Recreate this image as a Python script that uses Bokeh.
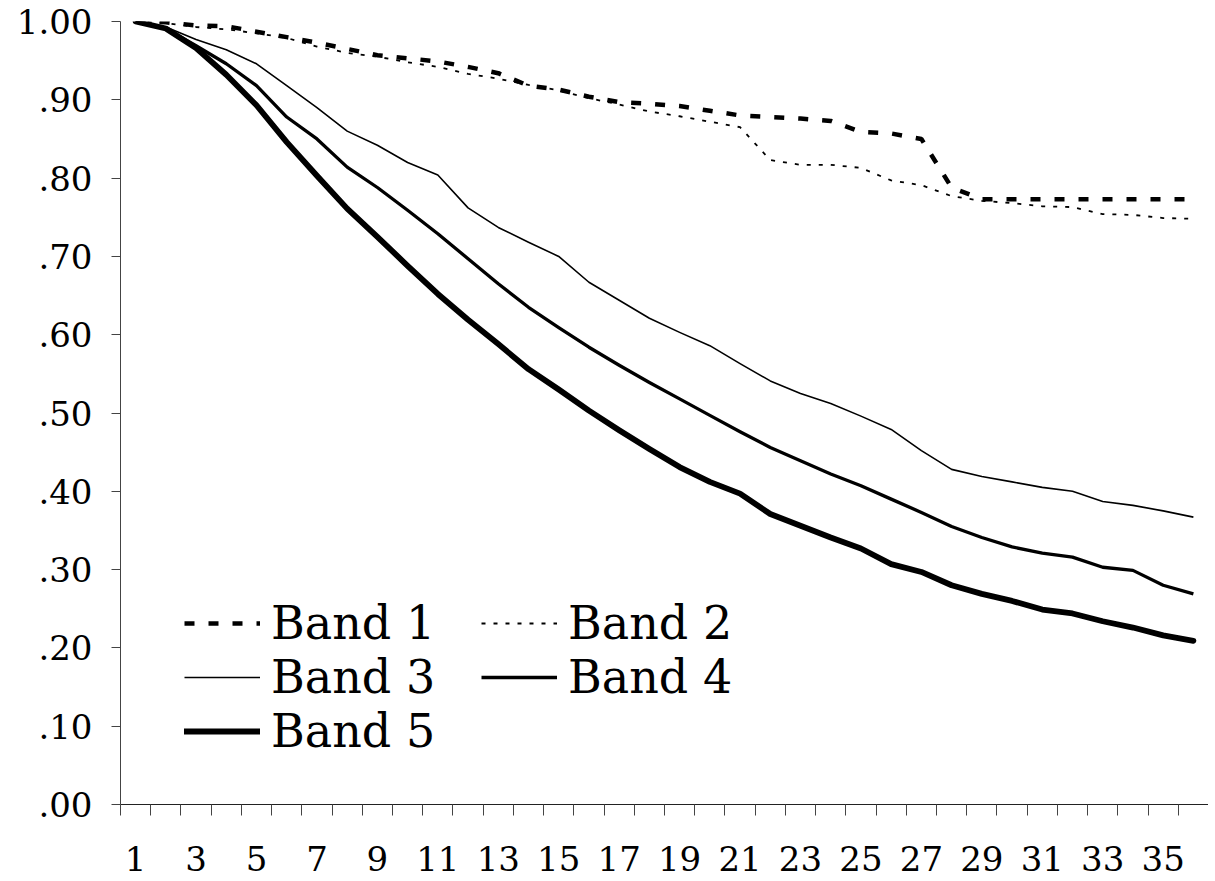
from bokeh.plotting import figure
from bokeh.models import FixedTicker, Legend, LegendItem, Range1d
from bokeh.embed import file_html
from bokeh.resources import INLINE

periods = list(range(1, 37))
x_tick_values = list(range(1, 37, 2))
x_tick_labels = [str(v) for v in x_tick_values]
y_tick_values = [0.0, 0.1, 0.2, 0.3, 0.4, 0.5, 0.6, 0.7, 0.8, 0.9, 1.0]
y_tick_labels = [".00", ".10", ".20", ".30", ".40", ".50", ".60", ".70", ".80", ".90", "1.00"]

band1 = [1.000, 0.999, 0.995, 0.994, 0.987, 0.980, 0.973, 0.965, 0.957, 0.953,
         0.949, 0.942, 0.934, 0.918, 0.913, 0.904, 0.897, 0.895, 0.892, 0.886,
         0.880, 0.878, 0.876, 0.873, 0.859, 0.857, 0.850, 0.788, 0.773, 0.773,
         0.773, 0.773, 0.773, 0.773, 0.773, 0.773]
band2 = [1.000, 0.998, 0.993, 0.990, 0.985, 0.979, 0.968, 0.960, 0.955, 0.948,
         0.942, 0.933, 0.927, 0.919, 0.912, 0.902, 0.894, 0.885, 0.879, 0.872,
         0.865, 0.823, 0.817, 0.817, 0.813, 0.797, 0.791, 0.777, 0.771, 0.768,
         0.764, 0.763, 0.754, 0.753, 0.749, 0.748]
band3 = [1.000, 0.993, 0.977, 0.964, 0.946, 0.918, 0.890, 0.860, 0.842, 0.820,
         0.804, 0.762, 0.737, 0.718, 0.700, 0.667, 0.644, 0.621, 0.603, 0.586,
         0.563, 0.541, 0.525, 0.512, 0.496, 0.479, 0.452, 0.428, 0.419, 0.412,
         0.405, 0.400, 0.387, 0.382, 0.375, 0.367]
band4 = [1.000, 0.991, 0.969, 0.946, 0.918, 0.878, 0.850, 0.814, 0.788, 0.759,
         0.729, 0.697, 0.665, 0.635, 0.609, 0.584, 0.561, 0.539, 0.518, 0.497,
         0.476, 0.456, 0.439, 0.422, 0.407, 0.390, 0.373, 0.355, 0.341, 0.329,
         0.321, 0.316, 0.303, 0.299, 0.280, 0.269]
band5 = [1.000, 0.991, 0.966, 0.932, 0.893, 0.846, 0.803, 0.761, 0.725, 0.688,
         0.652, 0.619, 0.588, 0.556, 0.530, 0.503, 0.478, 0.454, 0.431, 0.412,
         0.397, 0.371, 0.356, 0.341, 0.327, 0.307, 0.297, 0.280, 0.269, 0.260,
         0.249, 0.244, 0.234, 0.226, 0.216, 0.209]
series_names = ["Band 1", "Band 2", "Band 3", "Band 4", "Band 5"]

FONT = "DejaVu Serif"

p = figure(width=1208, height=881, output_backend="svg", toolbar_location=None,
           x_range=Range1d(0.5, 36.5), y_range=Range1d(0, 1),
           min_border_left=120, min_border_top=21, min_border_right=0,
           min_border_bottom=77)
p.outline_line_color = None
p.grid.visible = False
p.background_fill_color = "white"
p.border_fill_color = "white"

styles = [
    dict(line_width=4.5, line_dash="10 14", line_cap="butt"),
    dict(line_width=1.8, line_dash="4 8", line_cap="butt"),
    dict(line_width=1.6, line_join="round"),
    dict(line_width=3.3, line_join="round"),
    dict(line_width=5.8, line_join="round", line_cap="round"),
]
renderers = []
for data, st in zip([band1, band2, band3, band4, band5], styles):
    r = p.line(periods, data, line_color="black", **st)
    renderers.append(r)

# x axis
xa = p.xaxis[0]
xa.ticker = FixedTicker(ticks=x_tick_values,
                        minor_ticks=[v + 0.5 for v in range(0, 37)])
xa.major_label_overrides = {v: l for v, l in zip(x_tick_values, x_tick_labels)}
xa.major_tick_out = 0
xa.major_tick_in = 0
xa.minor_tick_out = 11
xa.minor_tick_in = 0
xa.minor_tick_line_color = "#444444"
xa.axis_line_color = "#222222"
xa.major_label_standoff = 30
xa.major_label_text_font = FONT
xa.major_label_text_font_size = "34px"
xa.major_label_text_color = "black"

ya = p.yaxis[0]
ya.ticker = FixedTicker(ticks=y_tick_values, minor_ticks=[])
ya.major_label_overrides = {v: l for v, l in zip(y_tick_values, y_tick_labels)}
ya.major_tick_out = 9
ya.major_tick_in = 0
ya.minor_tick_out = 0
ya.major_tick_line_color = "#444444"
ya.axis_line_color = "#444444"
ya.major_label_standoff = 19
ya.major_label_text_font = FONT
ya.major_label_text_font_size = "34px"
ya.major_label_text_color = "black"

items = [LegendItem(label=n, renderers=[r]) for n, r in zip(series_names, renderers)]
legend = Legend(items=items, orientation="horizontal", ncols=2,
                location=(64, 46), padding=0, margin=0, spacing=0,
                border_line_color=None, background_fill_alpha=0,
                label_text_font=FONT, label_text_font_size="46px",
                label_text_color="black",
                glyph_width=76, glyph_height=52, label_standoff=11,
                label_width=210, label_height=52)
p.add_layout(legend)

open("out.html", "w").write(file_html(p, INLINE))
